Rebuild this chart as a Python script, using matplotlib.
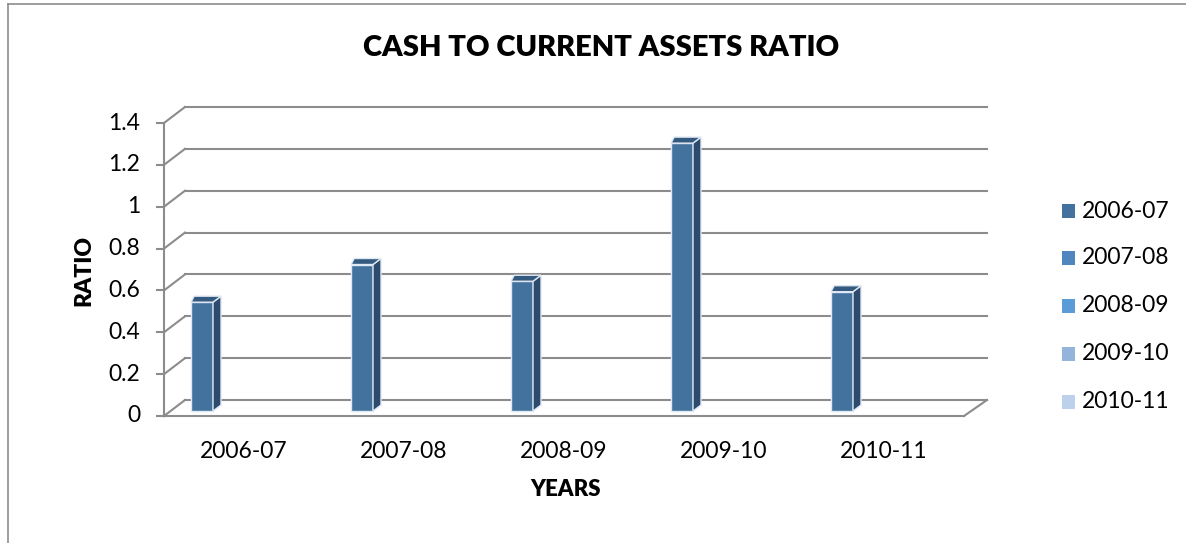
import matplotlib
matplotlib.use("Agg")
import matplotlib.pyplot as plt
from matplotlib.patches import Polygon
from matplotlib.lines import Line2D

# ---- data ----
categories = ["2006-07", "2007-08", "2008-09", "2009-10", "2010-11"]
values = [0.52, 0.70, 0.62, 1.28, 0.57]
legend_labels = ["2006-07", "2007-08", "2008-09", "2009-10", "2010-11"]
legend_colors = ["#44729f", "#4f86bd", "#5a9bd8", "#95b4db", "#bdd1ec"]
yticks = [0, 0.2, 0.4, 0.6, 0.8, 1.0, 1.2, 1.4]
ytick_labels = ["0", "0.2", "0.4", "0.6", "0.8", "1", "1.2", "1.4"]

W, H = 1186, 543
DPI = 100
FONT = "Lato"
plt.rcParams["font.family"] = [FONT, "DejaVu Sans"]

fig = plt.figure(figsize=(W / DPI, H / DPI), dpi=DPI)
fig.patch.set_facecolor("white")

# front plot rectangle in pixels
L, R, B, T = 164, 964, 416, 123
ax = fig.add_axes([L / W, 1 - B / H, (R - L) / W, (B - T) / H])
ax.set_xlim(0, len(categories))
ax.set_ylim(0, 1.4)
ax.axis("off")

px_x = len(categories) / (R - L)   # data units per pixel (x)
px_y = 1.4 / (B - T)               # data units per pixel (y)

# depth of the back wall
DX, DY = 21 * px_x, 16 * px_y
grid_c = "#8c8c8c"
lw = 1.5
n = len(categories)

# back wall gridlines + left wall diagonals + tick marks
for v in yticks:
    ax.add_line(Line2D([DX, n + DX + 2 * px_x], [v + DY, v + DY], color=grid_c, lw=lw, clip_on=False, zorder=1))
    ax.add_line(Line2D([0, DX], [v, v + DY], color=grid_c, lw=lw, clip_on=False, zorder=1))
    ax.add_line(Line2D([-7 * px_x, 0], [v, v], color=grid_c, lw=lw, clip_on=False, zorder=1))
# front vertical axis
ax.add_line(Line2D([0, 0], [0, 1.4], color=grid_c, lw=lw, clip_on=False, zorder=1))
# floor front edge and right edge
ax.add_line(Line2D([0, n], [0, 0], color=grid_c, lw=lw, clip_on=False, zorder=1))
ax.add_line(Line2D([n, n + DX + 2 * px_x], [0, DY], color=grid_c, lw=lw, clip_on=False, zorder=1))

# bars
front_c = "#44729f"
side_c = "#2d4b6c"
top_c = "#345a80"
edge_c = "#dfe8f3"
bw = 22 * px_x
boff = 27 * px_x
by0 = 5 * px_y
sdx, sdy = 8 * px_x, 6 * px_y
for i, v in enumerate(values):
    x0 = i + boff
    ax.bar(x0, v, width=bw, bottom=by0, align="edge", color=front_c,
           edgecolor=edge_c, linewidth=1.0, zorder=3, clip_on=False)
    side = Polygon([(x0 + bw, by0), (x0 + bw + sdx, by0 + sdy),
                    (x0 + bw + sdx, by0 + v + sdy), (x0 + bw, by0 + v)],
                   closed=True, facecolor=side_c, edgecolor=edge_c, lw=1.0, zorder=3, clip_on=False)
    top = Polygon([(x0, by0 + v), (x0 + bw, by0 + v), (x0 + bw + sdx, by0 + v + sdy),
                   (x0 + sdx * 0.4, by0 + v + sdy)],
                  closed=True, facecolor=top_c, edgecolor=edge_c, lw=1.0, zorder=3, clip_on=False)
    ax.add_patch(side)
    ax.add_patch(top)

# y tick labels
for v, lab in zip(yticks, ytick_labels):
    ax.text(-24 * px_x, v, lab, ha="right", va="center", fontsize=16.5, color="#000000", clip_on=False)

# category labels
for i, c in enumerate(categories):
    ax.text(i + 0.5, -36 * px_y, c, ha="center", va="center", fontsize=16.5, clip_on=False)

# axis titles & title
fig.text(566 / W, 1 - 490 / H, "YEARS", ha="center", va="center", fontsize=16, fontweight="heavy")
fig.text(84 / W, 1 - 270 / H, "RATIO", ha="center", va="center", fontsize=16.5, fontweight="heavy", rotation=90)
fig.text(601 / W, 1 - 48 / H, "CASH TO CURRENT ASSETS RATIO", ha="center", va="center",
         fontsize=21, fontweight="heavy")

# legend (manual, figure coords)
ly = [211, 258, 306, 354, 402]
for lab, col, y in zip(legend_labels, legend_colors, ly):
    fig.patches.append(plt.Rectangle((1062 / W, 1 - (y + 7) / H), 13 / W, 14 / H,
                                     transform=fig.transFigure, facecolor=col, edgecolor="none"))
    fig.text(1082 / W, 1 - y / H, lab, ha="left", va="center", fontsize=16.5)

# chart border (left and top)
fig.add_artist(Line2D([8 / W, 8 / W], [0, 1 - 4 / H], transform=fig.transFigure, color="#8c8c8c", lw=1.2))
fig.add_artist(Line2D([8 / W, 1], [1 - 4 / H, 1 - 4 / H], transform=fig.transFigure, color="#8c8c8c", lw=1.2))

fig.savefig("out.png", dpi=DPI, facecolor="white")
